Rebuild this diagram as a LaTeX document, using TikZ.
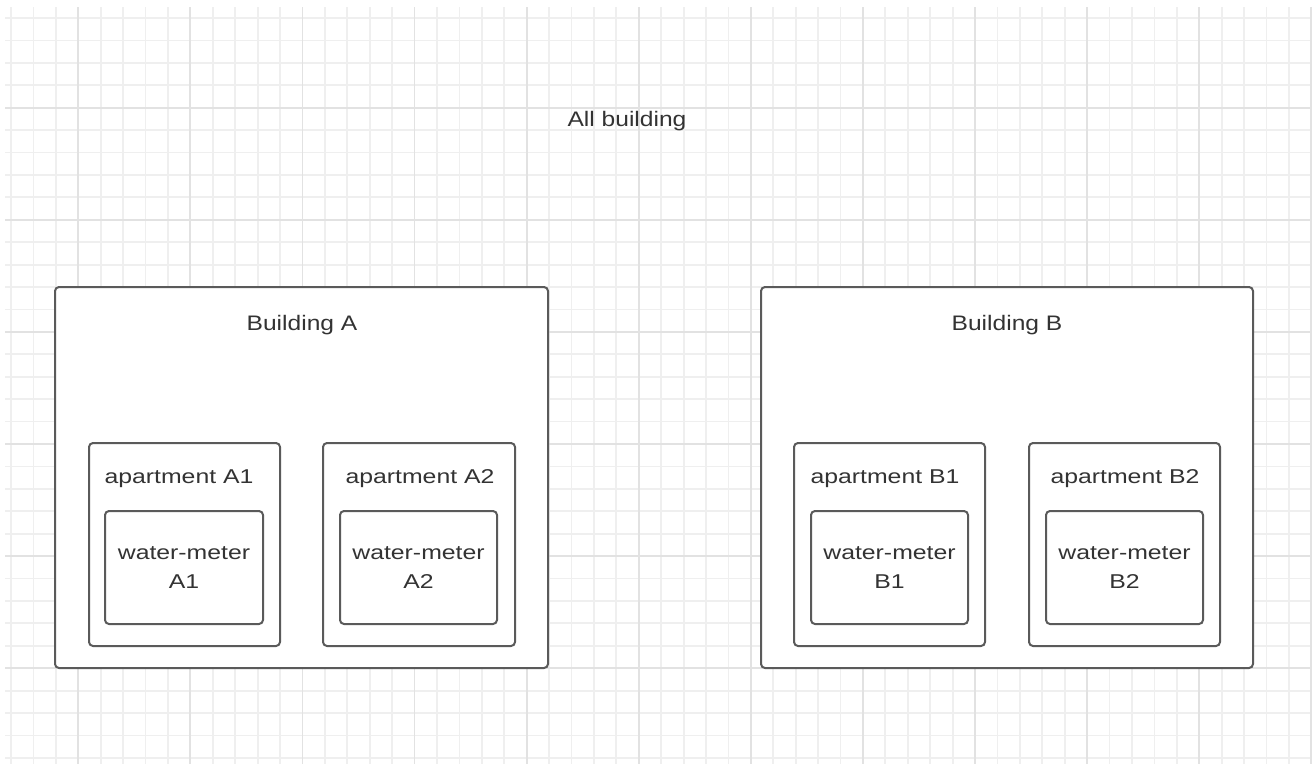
\documentclass[tikz,border=0pt]{standalone}
\usepackage{fontspec}
\setmainfont{Liberation Sans}
\newfontfamily\titlefont[FakeStretch=1.17]{Liberation Sans}
\newfontfamily\labfont[FakeStretch=1.24]{Liberation Sans}
\definecolor{minorgrid}{HTML}{EFEFEF}
\definecolor{majorgrid}{HTML}{E2E2E2}
\definecolor{boxline}{HTML}{5A5A5A}
\definecolor{txt}{HTML}{333333}
\tikzset{
  box/.style={draw=boxline, line width=2pt, rounded corners=4pt, fill=white, inner sep=0pt, outer sep=0pt},
  title/.style={text=txt, inner sep=0pt, font=\titlefont\fontsize{21}{25}\selectfont},
  lab/.style={text=txt, inner sep=0pt, align=center, font=\labfont\fontsize{20}{29}\selectfont},
}
\begin{document}
\begin{tikzpicture}[x=1pt, y=-1pt]
\useasboundingbox (0,0) rectangle (1312,764);
\fill[white] (0,0) rectangle (1312,764);
\begin{scope}
  \clip (5,7) rectangle (1312,764);
  \foreach \k in {0,...,58} \draw[minorgrid, line width=1.8pt] ({11+22.42*\k},7) -- ({11+22.42*\k},764);
  \foreach \k in {0,...,33} \draw[minorgrid, line width=1.8pt] (5,{18+22.42*\k}) -- (1312,{18+22.42*\k});
  \foreach \k in {3,8,...,58} \draw[majorgrid, line width=1.8pt] ({11+22.42*\k},7) -- ({11+22.42*\k},764);
  \foreach \k in {4,9,...,33} \draw[majorgrid, line width=1.8pt] (5,{18+22.42*\k}) -- (1312,{18+22.42*\k});
\end{scope}

\node[title] (all) at (627,121) {All building};

% Building A
\node[box, minimum width=493pt, minimum height=381pt] (bA) at (301.5,477.5) {};
\node[title] (bAt) at (302,325) {Building A};
\node[box, minimum width=191pt, minimum height=203pt] (aA1) at (184.5,544.5) {};
\node[lab] (aA1t) at (179,478.5) {apartment A1};
\node[box, minimum width=158pt, minimum height=113pt] (mA1) at (184,567.5) {};
\node[lab] (mA1t) at (184,567.5) {water-meter\\A1};
\node[box, minimum width=192pt, minimum height=203pt] (aA2) at (419,544.5) {};
\node[lab] (aA2t) at (420,478.5) {apartment A2};
\node[box, minimum width=157pt, minimum height=113pt] (mA2) at (418.5,567.5) {};
\node[lab] (mA2t) at (418.5,567.5) {water-meter\\A2};

% Building B
\node[box, minimum width=492pt, minimum height=381pt] (bB) at (1007,477.5) {};
\node[title] (bBt) at (1007,325) {Building B};
\node[box, minimum width=191pt, minimum height=203pt] (aB1) at (889.5,544.5) {};
\node[lab] (aB1t) at (885,478.5) {apartment B1};
\node[box, minimum width=157pt, minimum height=113pt] (mB1) at (889.5,567.5) {};
\node[lab] (mB1t) at (889.5,567.5) {water-meter\\B1};
\node[box, minimum width=191pt, minimum height=203pt] (aB2) at (1124.5,544.5) {};
\node[lab] (aB2t) at (1125,478.5) {apartment B2};
\node[box, minimum width=157pt, minimum height=113pt] (mB2) at (1124.5,567.5) {};
\node[lab] (mB2t) at (1124.5,567.5) {water-meter\\B2};
\end{tikzpicture}
\end{document}
